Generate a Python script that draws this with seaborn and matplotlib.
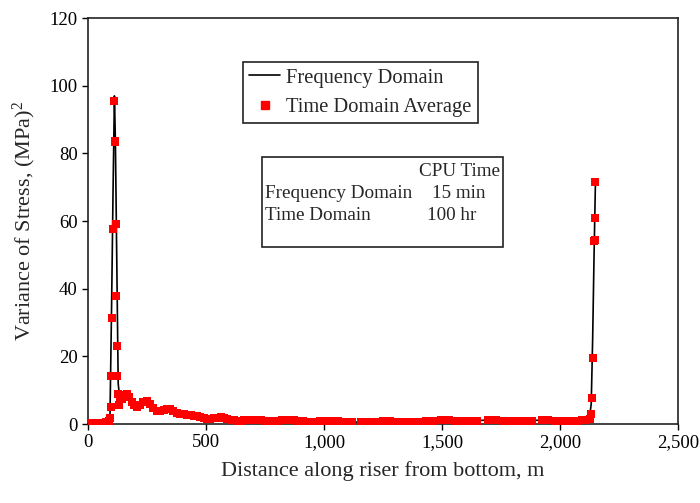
import matplotlib
matplotlib.use("Agg")
import matplotlib.pyplot as plt
import seaborn as sns
import pandas as pd
from matplotlib.ticker import FuncFormatter
from matplotlib.lines import Line2D

# ---- data ----
fd_x = [0, 30, 60, 85, 93, 100, 106, 112, 116, 120, 124, 128, 135, 145, 155, 165, 175, 185, 195,
        207, 220, 235, 249, 262, 275, 292, 305, 320, 335, 349, 362, 375, 390, 405, 420, 435,
        450, 462, 475, 490, 505, 519, 533, 548, 562, 576, 590, 605, 620, 635, 647, 660, 675,
        690, 704, 720, 735, 750, 770, 790, 803, 820, 840, 860, 874, 890, 910, 930, 945, 965,
        985, 1005, 1030, 1060, 1090, 1120, 1157, 1190, 1220, 1250, 1280, 1310, 1340, 1369,
        1400, 1430, 1460, 1497, 1530, 1560, 1590, 1620, 1650, 1696, 1730, 1760, 1790, 1820,
        1850, 1880, 1922, 1950, 1980, 2010, 2040, 2070, 2095, 2115, 2125, 2132, 2138, 2144,
        2150]
fd_y = [0.2, 0.2, 0.3, 0.6, 1.5, 35.0, 68.0, 97.0, 84.0, 60.0, 36.0, 12.0, 7.0, 7.5, 8.5, 8.9,
        8.0, 6.5, 5.5, 4.9, 5.5, 6.5, 6.9, 6.0, 4.8, 3.9, 3.8, 4.2, 4.4, 4.4, 3.8, 3.2, 3.0,
        2.9, 2.8, 2.6, 2.5, 2.4, 2.0, 1.7, 1.5, 1.5, 1.7, 1.9, 2.0, 1.9, 1.6, 1.3, 1.1, 1.0,
        1.0, 1.1, 1.2, 1.3, 1.3, 1.2, 1.1, 1.0, 1.0, 1.0, 1.0, 1.1, 1.2, 1.2, 1.2, 1.0, 0.8,
        0.7, 0.6, 0.7, 0.8, 0.9, 0.9, 0.8, 0.7, 0.6, 0.5, 0.6, 0.7, 0.8, 0.8, 0.7, 0.6, 0.5,
        0.6, 0.8, 1.0, 1.2, 1.1, 1.0, 0.9, 0.9, 1.0, 1.2, 1.1, 0.9, 0.8, 0.8, 0.9, 1.0, 1.2,
        1.1, 0.9, 0.8, 0.9, 1.0, 1.1, 1.4, 2.0, 6.0, 25.0, 50.0, 72.0]

td_x = [0, 15, 30, 45, 60, 75, 88, 94, 97, 99, 101, 104, 112, 113, 116, 117, 120, 123, 125,
        127, 130, 135, 145, 155, 165, 175, 185, 195, 207, 220, 235, 249, 262, 275, 292, 305,
        320, 335, 349, 362, 375, 390, 405, 420, 435, 450, 462, 475, 490, 505, 519, 533, 548,
        562, 576, 590, 605, 620, 635, 647, 660, 675, 690, 704, 720, 735, 750, 770, 790, 803,
        820, 840, 860, 874, 890, 910, 930, 945, 965, 985, 1005, 1030, 1060, 1090, 1120, 1157,
        1190, 1220, 1250, 1280, 1310, 1340, 1369, 1400, 1430, 1460, 1497, 1530, 1560, 1590,
        1620, 1650, 1696, 1730, 1760, 1790, 1820, 1850, 1880, 1922, 1950, 1980, 2010, 2040,
        2070, 2095, 2110, 2125, 2133, 2137, 2140, 2145, 2147, 2148, 2150]
td_y = [0.2, 0.2, 0.3, 0.2, 0.4, 0.5, 1.0, 1.8, 5.1, 14.2, 31.4, 57.8, 95.5, 83.7, 83.5, 59.1,
        37.8, 23.1, 14.2, 9.0, 5.5, 8.0, 7.5, 8.5, 8.9, 8.0, 6.5, 5.5, 4.9, 5.5, 6.5, 6.9, 6.0,
        4.8, 3.9, 3.8, 4.2, 4.4, 4.4, 3.8, 3.2, 3.0, 2.9, 2.8, 2.6, 2.5, 2.4, 2.0, 1.7, 1.5,
        1.5, 1.7, 1.9, 2.0, 1.9, 1.6, 1.3, 1.1, 1.0, 1.0, 1.1, 1.2, 1.3, 1.3, 1.2, 1.1, 1.0,
        1.0, 1.0, 1.0, 1.1, 1.2, 1.2, 1.2, 1.0, 0.8, 0.7, 0.6, 0.7, 0.8, 0.9, 0.9, 0.8, 0.7,
        0.6, 0.5, 0.6, 0.7, 0.8, 0.8, 0.7, 0.6, 0.5, 0.6, 0.8, 1.0, 1.2, 1.1, 1.0, 0.9, 0.9,
        1.0, 1.2, 1.1, 0.9, 0.8, 0.8, 0.9, 1.0, 1.2, 1.1, 0.9, 0.8, 0.9, 1.0, 1.1, 1.2, 1.5,
        3.0, 7.7, 19.6, 54.0, 54.5, 61.0, 71.5]

x_ticks = [0, 500, 1000, 1500, 2000, 2500]
y_ticks = [0, 20, 40, 60, 80, 100, 120]

fd = pd.DataFrame({"x": fd_x, "y": fd_y})
td = pd.DataFrame({"x": td_x, "y": td_y})

sns.set_style("ticks")
plt.rcParams["font.family"] = ["Liberation Serif", "DejaVu Serif"]
plt.rcParams["mathtext.fontset"] = "custom"
plt.rcParams["mathtext.rm"] = "Liberation Serif"
plt.rcParams["mathtext.it"] = "Liberation Serif:italic"

fig = plt.figure(figsize=(7.0, 5.03), dpi=100)
ax = fig.add_axes([0.1257, 0.157, 0.843, 0.807])

sns.lineplot(data=fd, x="x", y="y", ax=ax, color="black", linewidth=1.2,
             estimator=None, sort=False, legend=False, zorder=2)
sns.scatterplot(data=td, x="x", y="y", ax=ax, color="#ff0000", marker="s", s=38,
                linewidth=0, legend=False, zorder=3)

ax.set_xlim(0, 2500)
ax.set_ylim(0, 120)
ax.set_xticks(x_ticks)
ax.set_yticks(y_ticks)
ax.xaxis.set_major_formatter(FuncFormatter(lambda v, p: f"{int(v):,}"))
ax.tick_params(direction="out", length=4, width=1, labelsize=13.5, colors="black")
for s in ax.spines.values():
    s.set_color("#222222")
    s.set_linewidth(1.2)
    s.set_visible(True)

ax.set_xlabel("Distance along riser from bottom, m", fontsize=16, labelpad=7)
ax.set_ylabel("Variance of Stress, (MPa)$^2$", fontsize=16, labelpad=8)

handles = [Line2D([], [], color="black", linewidth=1.2),
           Line2D([], [], color="#ff0000", marker="s", linestyle="none", markersize=6)]
leg = ax.legend(handles, ["Frequency Domain", "Time Domain Average"],
                loc="upper left", bbox_to_anchor=(0.2627, 0.8916), fontsize=14.8,
                frameon=True, fancybox=False, framealpha=1, edgecolor="#222222",
                borderpad=0.3, handlelength=1.5, handletextpad=0.3, labelspacing=0.5,
                borderaxespad=0)
leg.get_frame().set_linewidth(1.2)

# CPU time box
fig.patches.append(plt.Rectangle((262 / 700, 1 - 247 / 503), (503 - 262) / 700, 90 / 503,
                                 transform=fig.transFigure, fill=False,
                                 edgecolor="#222222", linewidth=1.2))
fs = 13.8
fig.text(419 / 700, 1 - 172 / 503, "CPU Time", fontsize=fs, va="center", ha="left")
fig.text(265 / 700, 1 - 194 / 503, "Frequency Domain", fontsize=fs, va="center", ha="left")
fig.text(432 / 700, 1 - 194 / 503, "15 min", fontsize=fs, va="center", ha="left")
fig.text(265 / 700, 1 - 216 / 503, "Time Domain", fontsize=fs, va="center", ha="left")
fig.text(427 / 700, 1 - 216 / 503, "100 hr", fontsize=fs, va="center", ha="left")

fig.savefig("out.png", dpi=100)
